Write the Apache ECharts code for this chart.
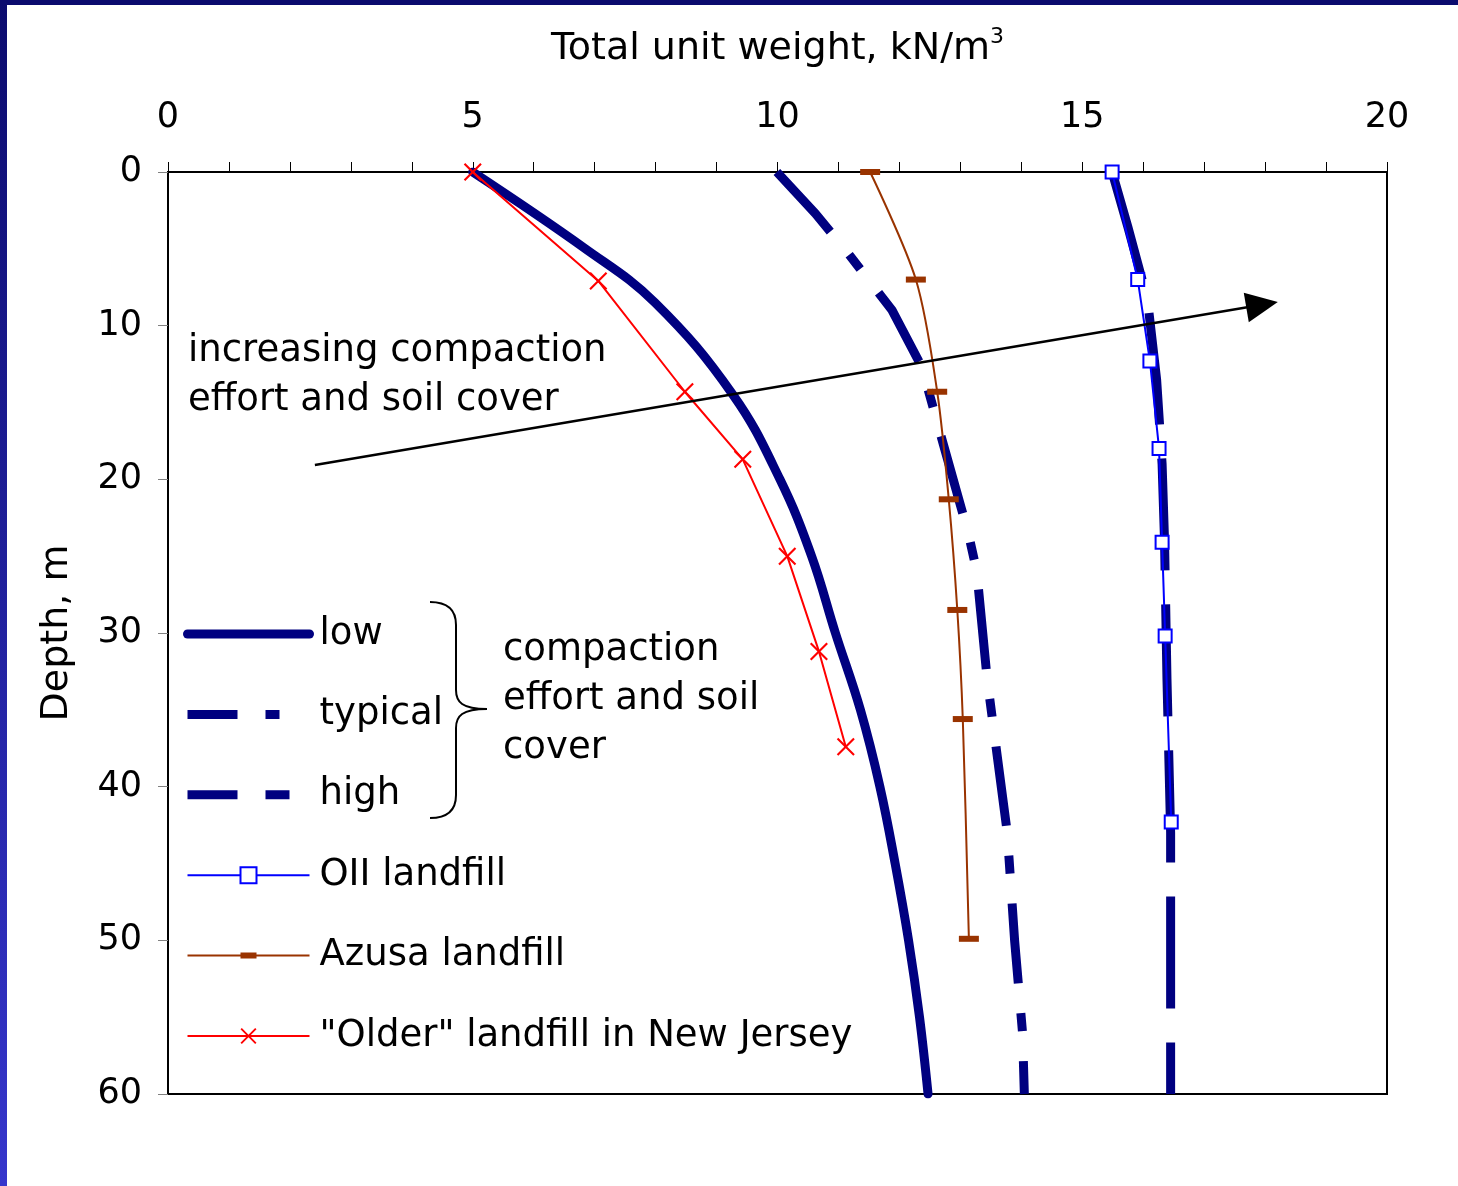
<!DOCTYPE html>
<html>
<head>
<meta charset="utf-8">
<script src="https://cdn.jsdelivr.net/npm/echarts@6/dist/echarts.min.js"></script>
<style>
html,body{margin:0;padding:0;background:#fff;}
#chart{width:1458px;height:1186px;}
</style>
</head>
<body>
<div id="chart"></div>
<script>
// ---- data (x = total unit weight kN/m3, depth in m) ----
const xTicks = [0, 5, 10, 15, 20];
const yTicks = [0, 10, 20, 30, 40, 50, 60];

const lowDepth = [0, 5, 8.5, 14.5, 20, 25, 30, 35, 40, 45, 50, 55, 60];
const lowWeight = [5.0, 6.85, 7.99, 9.27, 10.04, 10.56, 10.95, 11.36, 11.68, 11.93, 12.15, 12.33, 12.47];

const typicalDepth = [0, 2.7, 5, 9, 12.7, 17, 23.5, 26, 33, 43, 50, 56, 60];
const typicalWeight = [9.99, 10.62, 11.1, 11.88, 12.37, 12.67, 13.13, 13.27, 13.44, 13.77, 13.89, 14.02, 14.05];

const highDepth = [0, 3.6, 8.3, 13.5, 19, 24, 33, 43, 60];
const highWeight = [15.49, 15.75, 16.07, 16.22, 16.31, 16.35, 16.39, 16.45, 16.45];

const oiiDepth = [0, 7.0, 12.3, 18.0, 24.1, 30.2, 42.3];
const oiiWeight = [15.49, 15.91, 16.11, 16.26, 16.31, 16.36, 16.46];

const azusaDepth = [0, 7.0, 14.3, 21.3, 28.5, 35.6, 49.9];
const azusaWeight = [11.52, 12.27, 12.62, 12.81, 12.95, 13.04, 13.14];

const njDepth = [0, 7.09, 14.3, 18.7, 25.0, 31.2, 37.4];
const njWeight = [5.0, 7.06, 8.48, 9.43, 10.16, 10.68, 11.12];

// arrow annotation endpoints in data coordinates [weight, depth]
const arrowStart = [2.41, 19.07];
const arrowEnd = [17.95, 8.64];

const seriesNames = ['low', 'typical', 'high', 'OII landfill', 'Azusa landfill', '"Older" landfill in New Jersey'];

function pairs(xs, ds) { return xs.map((v, i) => [v, ds[i]]); }

const FONT = 'DejaVu Sans';
const NAVY = '#000080';
const NOSYM = {color: 'rgba(0,0,0,0)', borderWidth: 0, opacity: 0};

const chart = echarts.init(document.getElementById('chart'));

const option = {
  backgroundColor: '#ffffff',
  animation: false,
  textStyle: {fontFamily: FONT},
  grid: {left: 168, right: 71, top: 172, bottom: 92, show: true, borderColor: '#000', borderWidth: 2, backgroundColor: 'transparent', containLabel: false},
  xAxis: {
    type: 'value', position: 'top', min: xTicks[0], max: xTicks[xTicks.length - 1], interval: xTicks[1] - xTicks[0],
    name: '{a|Total unit weight, kN/m}{s|3}', nameLocation: 'middle', nameGap: 100,
    nameTextStyle: {rich: {a: {fontSize: 38, fontFamily: FONT, color: '#000'}, s: {fontSize: 22, fontFamily: FONT, color: '#000', padding: [0, 0, 24, 0]}}},
    axisLine: {show: true, lineStyle: {color: '#000', width: 2}},
    axisTick: {show: true, inside: false, length: 10, lineStyle: {color: '#000', width: 1}},
    minorTick: {show: true, splitNumber: 5, length: 10, lineStyle: {color: '#000', width: 1}},
    axisLabel: {fontSize: 35, fontFamily: FONT, color: '#000', margin: 37},
    splitLine: {show: false}, minorSplitLine: {show: false}
  },
  yAxis: {
    type: 'value', inverse: true, min: yTicks[0], max: yTicks[yTicks.length - 1], interval: yTicks[1] - yTicks[0],
    name: 'Depth, m', nameLocation: 'middle', nameGap: 92, nameRotate: 90,
    nameTextStyle: {fontSize: 38, fontFamily: FONT, color: '#000'},
    axisLine: {show: true, lineStyle: {color: '#000', width: 2}},
    axisTick: {show: true, inside: false, length: 10, lineStyle: {color: '#808080', width: 1}},
    axisLabel: {fontSize: 35, fontFamily: FONT, color: '#000', margin: 26},
    splitLine: {show: false}
  },
  legend: {
    show: true, orient: 'vertical', left: 183, top: 614, padding: 0,
    itemWidth: 122, itemHeight: 20, itemGap: 40.4, selectedMode: false,
    textStyle: {fontSize: 37, fontFamily: FONT, color: '#000', lineHeight: 40, padding: [0, 0, 0, 5]},
    data: [
      {name: seriesNames[0], lineStyle: {width: 9, cap: 'round'}, itemStyle: NOSYM},
      {name: seriesNames[1], lineStyle: {width: 9, type: [50, 28, 14, 60], cap: 'butt'}, itemStyle: NOSYM},
      {name: seriesNames[2], lineStyle: {width: 9, type: [50, 28, 24, 60], cap: 'butt'}, itemStyle: NOSYM},
      {name: seriesNames[3], lineStyle: {width: 2}},
      {name: seriesNames[4], icon: 'path://M0,9L53,9L53,7L69,7L69,9L122,9L122,11L69,11L69,13L53,13L53,11L0,11Z', itemStyle: {borderWidth: 0}},
      {name: seriesNames[5], lineStyle: {width: 2}}
    ]
  },
  series: [
    {name: seriesNames[0], type: 'line', data: pairs(lowWeight, lowDepth), symbol: 'none', smooth: 0.4,
     lineStyle: {color: NAVY, width: 9, cap: 'round', join: 'round'}, itemStyle: {color: NAVY}, silent: true, z: 2},
    {name: seriesNames[1], type: 'line', data: pairs(typicalWeight, typicalDepth), symbol: 'none',
     lineStyle: {color: NAVY, width: 9, type: [80, 30, 18, 30], cap: 'butt', join: 'miter'}, itemStyle: {color: NAVY}, silent: true, z: 2},
    {name: seriesNames[2], type: 'line', data: pairs(highWeight, highDepth), symbol: 'none',
     lineStyle: {color: NAVY, width: 9, type: [112, 34], cap: 'butt', join: 'miter'}, itemStyle: {color: NAVY}, silent: true, z: 2},
    {name: seriesNames[3], type: 'line', data: pairs(oiiWeight, oiiDepth), symbol: 'rect', symbolSize: 13, showAllSymbol: true,
     lineStyle: {color: '#0000ff', width: 2}, itemStyle: {color: '#ffffff', borderColor: '#0000ff', borderWidth: 2}, silent: true, z: 3},
    {name: seriesNames[4], type: 'line', data: pairs(azusaWeight, azusaDepth), symbol: 'rect', symbolSize: [20, 6], symbolKeepAspect: false, smooth: 0.3, showAllSymbol: true,
     lineStyle: {color: '#993300', width: 2}, itemStyle: {color: '#993300', borderWidth: 0}, silent: true, z: 3},
    {name: seriesNames[5], type: 'line', data: pairs(njWeight, njDepth), showAllSymbol: true,
     symbol: 'path://M0,1.5L1.5,0L9,7.5L16.5,0L18,1.5L10.5,9L18,16.5L16.5,18L9,10.5L1.5,18L0,16.5L7.5,9Z', symbolSize: 18,
     lineStyle: {color: '#ff0000', width: 2}, itemStyle: {color: '#ff0000', borderWidth: 0}, silent: true, z: 4,
     markLine: {
       silent: true, symbol: ['none', 'triangle'], symbolSize: [30, 32], animation: false,
       label: {show: false},
       lineStyle: {color: '#000', width: 2.5, type: 'solid'},
       data: [[{coord: arrowStart}, {coord: arrowEnd}]]
     }}
  ],
  graphic: [
    {type: 'rect', shape: {x: 0, y: 0, width: 1458, height: 5}, style: {fill: '#0b0b6e'}, silent: true, z: 100},
    {type: 'rect', shape: {x: 0, y: 0, width: 7, height: 1186}, silent: true, z: 100,
     style: {fill: {type: 'linear', x: 0, y: 0, x2: 0, y2: 1, colorStops: [{offset: 0, color: '#0b0b6e'}, {offset: 1, color: '#3636cc'}]}}},
    {type: 'text', x: 188, y: 375.5, silent: true, z: 50,
     style: {text: 'increasing compaction\neffort and soil cover', fontSize: 37, fontFamily: FONT, fill: '#000', verticalAlign: 'middle', align: 'left', lineHeight: 49}},
    {type: 'text', x: 503, y: 699, silent: true, z: 50,
     style: {text: 'compaction\neffort and soil\ncover', fontSize: 37, fontFamily: FONT, fill: '#000', verticalAlign: 'middle', align: 'left', lineHeight: 49}},
    {type: 'bezierCurve', silent: true, z: 50, shape: {x1: 430, y1: 602, cpx1: 447, cpy1: 602, cpx2: 456, cpy2: 610, x2: 456, y2: 625}, style: {fill: null, stroke: '#000', lineWidth: 2}},
    {type: 'line', silent: true, z: 50, shape: {x1: 456, y1: 625, x2: 456, y2: 690}, style: {stroke: '#000', lineWidth: 2}},
    {type: 'bezierCurve', silent: true, z: 50, shape: {x1: 456, y1: 690, cpx1: 456, cpy1: 702, cpx2: 462, cpy2: 709, x2: 487, y2: 709}, style: {fill: null, stroke: '#000', lineWidth: 2}},
    {type: 'bezierCurve', silent: true, z: 50, shape: {x1: 487, y1: 709, cpx1: 462, cpy1: 709, cpx2: 456, cpy2: 716, x2: 456, y2: 728}, style: {fill: null, stroke: '#000', lineWidth: 2}},
    {type: 'line', silent: true, z: 50, shape: {x1: 456, y1: 728, x2: 456, y2: 795}, style: {stroke: '#000', lineWidth: 2}},
    {type: 'bezierCurve', silent: true, z: 50, shape: {x1: 456, y1: 795, cpx1: 456, cpy1: 810, cpx2: 447, cpy2: 818, x2: 430, y2: 818}, style: {fill: null, stroke: '#000', lineWidth: 2}}
  ]
};
chart.setOption(option);
</script>
</body>
</html>
